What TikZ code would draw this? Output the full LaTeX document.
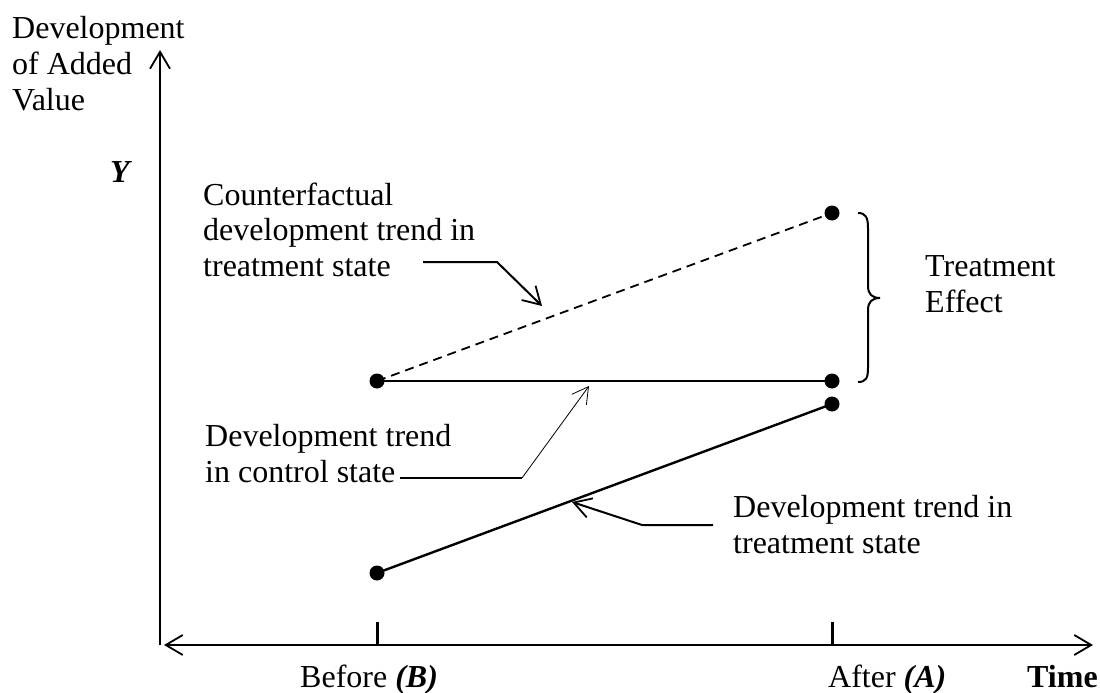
\documentclass[tikz,border=0pt]{standalone}
\usepackage{fontspec}
\setmainfont{Liberation Serif}
\usetikzlibrary{arrows.meta}
\tikzset{
  lbl/.style={inner sep=0pt, anchor=base west, align=left, font=\fontsize{32}{35.5}\selectfont},
  axis/.style={line width=2pt},
  barb/.style={-{Straight Barb[length=17pt,width=20pt,line width=1.8pt]}},
  dot/.style={circle, fill=black, inner sep=0pt, minimum size=15pt},
  trend/.style={line width=2.4pt},
  leader/.style={line width=2pt},
}
\begin{document}
\begin{tikzpicture}[x=1pt,y=-1pt]
\useasboundingbox (0,0) rectangle (1100,693);
% axes
\coordinate (O) at (160,645);
\coordinate (ytop) at (160,50);
\coordinate (xl) at (164,645);
\coordinate (xr) at (1093,645);
\draw[axis, barb] (O) -- (ytop);
\draw[axis, {Straight Barb[length=17pt,width=20pt,line width=1.8pt]}-{Straight Barb[length=17pt,width=20pt,line width=1.8pt]}] (xl) -- (xr);
\coordinate (tb) at (377,645); \coordinate (tbt) at (377,622);
\coordinate (ta) at (832,645); \coordinate (tat) at (832,622);
\draw[line width=3pt] (tb) -- (tbt);
\draw[line width=3pt] (ta) -- (tat);
% points
\node[dot] (b1) at (377,381) {};
\node[dot] (a1) at (832,381) {};
\node[dot] (a0) at (832,213) {};
\node[dot] (a2) at (832,404) {};
\node[dot] (b2) at (377,573) {};
\draw[trend, dash pattern=on 9pt off 6pt, line width=1.8pt] (b1.center) -- (a0.center);
\draw[trend] (b1.center) -- (a1.center);
\draw[trend] (b2.center) -- (a2.center);
% brace
\draw[line width=2pt] (858,213) .. controls (866,213) and (868,218) .. (868,228) -- (868,286) .. controls (868,294) and (872,298) .. (880,298) .. controls (872,298) and (868,302) .. (868,310) -- (868,368) .. controls (868,378) and (866,382) .. (858,382);
% labels (base anchor = baseline of the last line)
\node[lbl] (ylab) at (12,110) {Development\\of Added\\Value};
\node[lbl, font=\fontsize{32}{35.5}\selectfont\bfseries\itshape] (Y) at (110,182) {Y};
\node[lbl] (cf) at (203,276) {Counterfactual\\development trend in\\treatment state};
\node[lbl] (te) at (925,312) {Treatment\\Effect};
\node[lbl] (ctrl) at (205,482) {Development trend\\in control state};
\node[lbl] (tr) at (733,553) {Development trend in\\treatment state};
\node[lbl] (bef) at (300,687) {Before \textbf{\textit{(B)}}};
\node[lbl] (aft) at (828,687) {After \textbf{\textit{(A)}}};
\node[lbl, font=\fontsize{32}{35.5}\selectfont\bfseries] (time) at (1027,687) {Time};
% leaders
\coordinate (cf1) at (423,262); \coordinate (cf2) at (497,262); \coordinate (cf3) at (542,306);
\draw[leader, barb] (cf1) -- (cf2) -- (cf3);
\coordinate (ct1) at (400,478); \coordinate (ct2) at (522,478); \coordinate (ct3) at (589,386);
\draw[leader] (ct1) -- (ct2);
\draw[line width=0.8pt, -{Straight Barb[length=16pt,width=18pt,line width=0.8pt]}] (ct2) -- (ct3);
\coordinate (tr1) at (713,525); \coordinate (tr2) at (642,525); \coordinate (tr3) at (572,502);
\draw[leader, barb] (tr1) -- (tr2) -- (tr3);
\end{tikzpicture}
\end{document}
